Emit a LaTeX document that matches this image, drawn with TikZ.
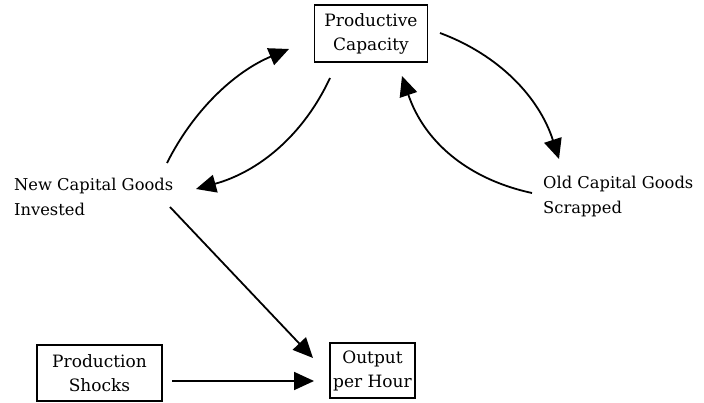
\documentclass[tikz,border=0pt]{standalone}
\usepackage{fontspec}
\setmainfont{DejaVu Serif}
\usetikzlibrary{arrows.meta}
\begin{document}
\begin{tikzpicture}[x=1pt,y=-1pt,
  box/.style={draw,line width=1.8pt,align=center,font=\fontsize{17}{24}\selectfont,inner sep=0pt},
  lbl/.style={align=left,font=\fontsize{16.3}{25}\selectfont,inner sep=0pt,anchor=west},
  flow/.style={line width=1.8pt,-{Triangle[length=20pt,width=18pt]}}]
\useasboundingbox (0,0) rectangle (704,403);
% boxed quantities
\node[box,minimum width=113pt,minimum height=57pt] (pc) at (371,33.5) {Productive\\Capacity};
\node[box,minimum width=125pt,minimum height=56pt] (ps) at (99.5,373) {Production\\Shocks};
\node[box,minimum width=85pt,minimum height=55pt] (oh) at (372.5,370.5) {Output\\per Hour};
% flows
\node[lbl] (nci) at (14,197) {New Capital Goods\\Invested};
\node[lbl] (ocs) at (543,197) {Old Capital Goods\\Scrapped};
% connector end points
\coordinate (a1s) at (167,163);
\coordinate (a1e) at (289,49);
\coordinate (a2s) at (330,78);
\coordinate (a2e) at (196,189);
\coordinate (a3s) at (440,33);
\coordinate (a3e) at (559,159);
\coordinate (a4s) at (532,193);
\coordinate (a4e) at (402,76);
\coordinate (a5s) at (170,207);
\coordinate (a5e) at (313,358);
\coordinate (a6s) at (172,381);
\coordinate (a6e) at (314,381);
\draw[flow] (a1s) .. controls (193,111) and (234,72) .. (a1e);
\draw[flow] (a2s) .. controls (303,136) and (258,172) .. (a2e);
\draw[flow] (a3s) .. controls (499,55) and (539,97) .. (a3e);
\draw[flow] (a4s) .. controls (467,179) and (424,141) .. (a4e);
\draw[flow] (a5s) -- (a5e);
\draw[flow] (a6s) -- (a6e);
\end{tikzpicture}
\end{document}
